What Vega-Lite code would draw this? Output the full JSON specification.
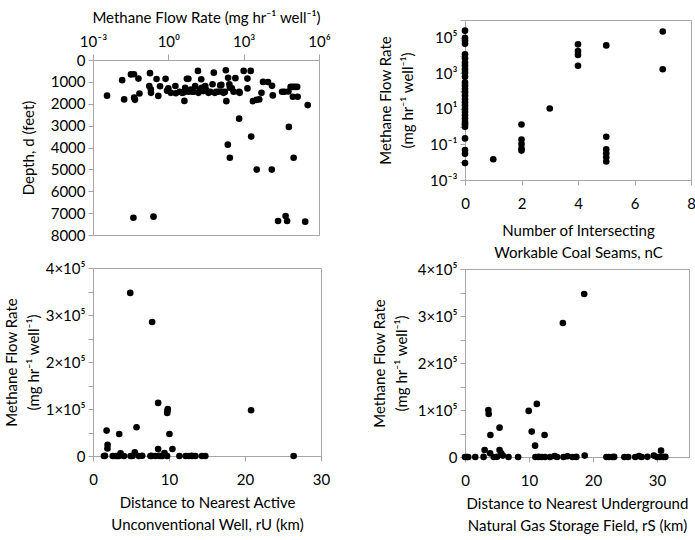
{
  "$schema": "https://vega.github.io/schema/vega-lite/v6.json",
  "background": "white",
  "padding": {"left": 3, "top": 9, "right": 1, "bottom": 3},
  "spacing": 40,
  "config": {
    "font": "Lato",
    "view": {"stroke": "#a6a6a6", "strokeWidth": 1},
    "axis": {
      "domainColor": "#a6a6a6",
      "tickColor": "#a6a6a6",
      "labelColor": "#000000",
      "titleColor": "#000000",
      "labelFont": "Lato",
      "titleFont": "Lato",
      "labelFontSize": 15,
      "titleFontSize": 15,
      "titleFontWeight": "normal",
      "titleLineHeight": 22,
      "grid": false,
      "tickSize": 5,
      "labelPadding": 3,
      "labelFlush": false,
      "labelOverlap": false
    },
    "axisBottom": {"labelPadding": 11}
  },
  "datasets": {
    "depth": [
      {"flow": 0.00363, "depth": 1630}, {"flow": 0.0145, "depth": 920}, {"flow": 0.0174, "depth": 1800},
      {"flow": 0.0324, "depth": 660}, {"flow": 0.0427, "depth": 650}, {"flow": 0.0437, "depth": 1720},
      {"flow": 0.0468, "depth": 1820}, {"flow": 0.0646, "depth": 850}, {"flow": 0.0708, "depth": 1530},
      {"flow": 0.186, "depth": 600}, {"flow": 0.174, "depth": 1190}, {"flow": 0.2, "depth": 1340},
      {"flow": 0.204, "depth": 1500}, {"flow": 0.339, "depth": 870}, {"flow": 0.468, "depth": 1200},
      {"flow": 0.398, "depth": 1640}, {"flow": 0.776, "depth": 860}, {"flow": 0.891, "depth": 1400},
      {"flow": 1.0, "depth": 1300}, {"flow": 1.26, "depth": 1500}, {"flow": 1.91, "depth": 1190},
      {"flow": 2.0, "depth": 1520}, {"flow": 4.37, "depth": 1870}, {"flow": 4.68, "depth": 1270},
      {"flow": 5.5, "depth": 860}, {"flow": 6.31, "depth": 860}, {"flow": 3.98, "depth": 1480},
      {"flow": 6.31, "depth": 1450}, {"flow": 9.12, "depth": 1450}, {"flow": 10, "depth": 1450},
      {"flow": 11.7, "depth": 1190}, {"flow": 15.1, "depth": 500}, {"flow": 20.4, "depth": 880},
      {"flow": 21.4, "depth": 1270}, {"flow": 25.1, "depth": 1420}, {"flow": 29.5, "depth": 1190},
      {"flow": 32.4, "depth": 1370}, {"flow": 46.8, "depth": 1450}, {"flow": 57.5, "depth": 1110},
      {"flow": 64.6, "depth": 580}, {"flow": 81.3, "depth": 1460}, {"flow": 117, "depth": 1160},
      {"flow": 129, "depth": 1140}, {"flow": 145, "depth": 1450}, {"flow": 178, "depth": 1460},
      {"flow": 195, "depth": 470}, {"flow": 204, "depth": 1880}, {"flow": 240, "depth": 810},
      {"flow": 269, "depth": 1110}, {"flow": 282, "depth": 1270}, {"flow": 339, "depth": 1300},
      {"flow": 468, "depth": 830}, {"flow": 661, "depth": 1460}, {"flow": 692, "depth": 1500},
      {"flow": 234, "depth": 3870}, {"flow": 282, "depth": 4470}, {"flow": 661, "depth": 2680},
      {"flow": 1000, "depth": 500}, {"flow": 1905, "depth": 500}, {"flow": 1413, "depth": 850},
      {"flow": 1413, "depth": 1300}, {"flow": 1995, "depth": 3500}, {"flow": 2344, "depth": 1880},
      {"flow": 3236, "depth": 1820}, {"flow": 4169, "depth": 1800}, {"flow": 5129, "depth": 1500},
      {"flow": 5888, "depth": 1000}, {"flow": 9333, "depth": 1010}, {"flow": 13490, "depth": 1180},
      {"flow": 14454, "depth": 1620}, {"flow": 3311, "depth": 5010}, {"flow": 13183, "depth": 5010},
      {"flow": 33884, "depth": 1450}, {"flow": 41687, "depth": 1450}, {"flow": 60256, "depth": 1440},
      {"flow": 63096, "depth": 3060}, {"flow": 74131, "depth": 1230}, {"flow": 91201, "depth": 1230},
      {"flow": 112202, "depth": 1230}, {"flow": 134896, "depth": 1230}, {"flow": 91201, "depth": 1680},
      {"flow": 141254, "depth": 1680}, {"flow": 97724, "depth": 4470}, {"flow": 354813, "depth": 2060},
      {"flow": 0.0407, "depth": 7210}, {"flow": 0.257, "depth": 7160}, {"flow": 23442, "depth": 7360},
      {"flow": 46774, "depth": 7130}, {"flow": 53703, "depth": 7360}, {"flow": 281838, "depth": 7390},
      {"flow": 2.82, "depth": 1450}, {"flow": 3.55, "depth": 1500}, {"flow": 15.8, "depth": 1500},
      {"flow": 39.8, "depth": 1500}, {"flow": 70.8, "depth": 1500}, {"flow": 100, "depth": 1450},
      {"flow": 158, "depth": 1500}, {"flow": 398, "depth": 1450}, {"flow": 17.8, "depth": 1350},
      {"flow": 7.94, "depth": 1350}
    ],
    "seams": [
      {"nc": 0, "flow": 251189}, {"nc": 0, "flow": 100000}, {"nc": 0, "flow": 70795}, {"nc": 0, "flow": 45709},
      {"nc": 0, "flow": 11749}, {"nc": 0, "flow": 7079}, {"nc": 0, "flow": 3981}, {"nc": 0, "flow": 2630},
      {"nc": 0, "flow": 1698}, {"nc": 0, "flow": 1122}, {"nc": 0, "flow": 646}, {"nc": 0, "flow": 309},
      {"nc": 0, "flow": 204}, {"nc": 0, "flow": 132}, {"nc": 0, "flow": 87}, {"nc": 0, "flow": 56},
      {"nc": 0, "flow": 36}, {"nc": 0, "flow": 24}, {"nc": 0, "flow": 15.5}, {"nc": 0, "flow": 10},
      {"nc": 0, "flow": 6.6}, {"nc": 0, "flow": 4.37}, {"nc": 0, "flow": 2.82}, {"nc": 0, "flow": 1.86},
      {"nc": 0, "flow": 1.38}, {"nc": 0, "flow": 0.98}, {"nc": 0, "flow": 0.219}, {"nc": 0, "flow": 0.049},
      {"nc": 0, "flow": 0.0295}, {"nc": 0, "flow": 0.0089},
      {"nc": 1, "flow": 0.0148},
      {"nc": 2, "flow": 1.32}, {"nc": 2, "flow": 0.19}, {"nc": 2, "flow": 0.105}, {"nc": 2, "flow": 0.06}, {"nc": 2, "flow": 0.045},
      {"nc": 3, "flow": 10.5},
      {"nc": 4, "flow": 42658}, {"nc": 4, "flow": 17783}, {"nc": 4, "flow": 10715}, {"nc": 4, "flow": 2630},
      {"nc": 5, "flow": 37154}, {"nc": 5, "flow": 0.27}, {"nc": 5, "flow": 0.054}, {"nc": 5, "flow": 0.0316},
      {"nc": 5, "flow": 0.019}, {"nc": 5, "flow": 0.011},
      {"nc": 7, "flow": 223872}, {"nc": 7, "flow": 1698}
    ],
    "uncon": [
      {"ru": 4.9, "flow": 347000}, {"ru": 7.78, "flow": 285000}, {"ru": 8.57, "flow": 113000},
      {"ru": 9.84, "flow": 100000}, {"ru": 9.8, "flow": 96000}, {"ru": 9.76, "flow": 91600},
      {"ru": 20.8, "flow": 97300}, {"ru": 1.79, "flow": 54000}, {"ru": 3.45, "flow": 46900},
      {"ru": 5.73, "flow": 61100}, {"ru": 10.06, "flow": 46900}, {"ru": 1.92, "flow": 24000},
      {"ru": 1.9, "flow": 16000}, {"ru": 8.57, "flow": 15000}, {"ru": 10.45, "flow": 15000},
      {"ru": 26.4, "flow": 0},
      {"ru": 1.44, "flow": 0}, {"ru": 1.57, "flow": 300}, {"ru": 2.97, "flow": 100}, {"ru": 3.19, "flow": 0},
      {"ru": 3.41, "flow": 200}, {"ru": 3.63, "flow": 5700}, {"ru": 4.07, "flow": 0}, {"ru": 4.94, "flow": 100},
      {"ru": 5.5, "flow": 7800}, {"ru": 6.03, "flow": 0}, {"ru": 6.47, "flow": 500}, {"ru": 7.56, "flow": 0},
      {"ru": 7.7, "flow": 200}, {"ru": 8.22, "flow": 0}, {"ru": 8.66, "flow": 300}, {"ru": 8.88, "flow": 0},
      {"ru": 9.1, "flow": 100}, {"ru": 9.4, "flow": 6400}, {"ru": 9.75, "flow": 0}, {"ru": 11.37, "flow": 100},
      {"ru": 12.6, "flow": 0}, {"ru": 13.0, "flow": 200}, {"ru": 13.47, "flow": 0}, {"ru": 14.34, "flow": 100},
      {"ru": 14.78, "flow": 0}, {"ru": 5.2, "flow": 0}, {"ru": 2.6, "flow": 0}, {"ru": 12.2, "flow": 0}
    ],
    "storage": [
      {"rs": 18.62, "flow": 346700}, {"rs": 15.29, "flow": 285000}, {"rs": 11.22, "flow": 113000},
      {"rs": 9.95, "flow": 98000}, {"rs": 3.65, "flow": 100000}, {"rs": 3.7, "flow": 91600},
      {"rs": 5.4, "flow": 62500}, {"rs": 3.97, "flow": 46900}, {"rs": 10.42, "flow": 54000},
      {"rs": 12.43, "flow": 46900}, {"rs": 10.95, "flow": 24200}, {"rs": 3.07, "flow": 15000},
      {"rs": 5.4, "flow": 15000}, {"rs": 3.92, "flow": 7800}, {"rs": 5.66, "flow": 7800},
      {"rs": 30.63, "flow": 13500},
      {"rs": 0, "flow": 0}, {"rs": 0.3, "flow": 0}, {"rs": 0.5, "flow": 100}, {"rs": 1.6, "flow": 0},
      {"rs": 2.9, "flow": 200}, {"rs": 4.5, "flow": 0}, {"rs": 5.0, "flow": 300}, {"rs": 5.9, "flow": 3000},
      {"rs": 6.8, "flow": 0}, {"rs": 8.3, "flow": 100}, {"rs": 11.0, "flow": 0}, {"rs": 11.5, "flow": 200},
      {"rs": 12.0, "flow": 0}, {"rs": 12.5, "flow": 100}, {"rs": 13.3, "flow": 0}, {"rs": 14.0, "flow": 2000},
      {"rs": 14.4, "flow": 0}, {"rs": 15.4, "flow": 100}, {"rs": 16.0, "flow": 1500}, {"rs": 16.8, "flow": 0},
      {"rs": 17.4, "flow": 200}, {"rs": 18.7, "flow": 3000}, {"rs": 22.1, "flow": 0}, {"rs": 22.5, "flow": 100},
      {"rs": 23.0, "flow": 0}, {"rs": 23.3, "flow": 200}, {"rs": 24.9, "flow": 0}, {"rs": 25.5, "flow": 100},
      {"rs": 26.6, "flow": 0}, {"rs": 27.2, "flow": 2000}, {"rs": 27.6, "flow": 0}, {"rs": 28.5, "flow": 300},
      {"rs": 29.5, "flow": 3000}, {"rs": 30.0, "flow": 0}, {"rs": 30.4, "flow": 100}, {"rs": 31.0, "flow": 0},
      {"rs": 31.3, "flow": 200}
    ],
    "blank": [{"k": 0}]
  },
  "hconcat": [
    {
      "spacing": -12,
      "vconcat": [
        {
          "width": 1,
          "height": 1,
          "view": {"stroke": null},
          "data": {"name": "blank"},
          "mark": {"type": "point", "opacity": 0, "size": 1},
          "encoding": {}
        },
        {
          "spacing": 16,
          "vconcat": [
            {
              "width": 226,
              "height": 175,
              "data": {"name": "depth"},
              "mark": {"type": "circle", "size": 44, "color": "black", "opacity": 1},
              "encoding": {
                "x": {
                  "field": "flow", "type": "quantitative",
                  "scale": {"type": "log", "domain": [0.001, 1000000], "nice": false},
                  "axis": {
                    "orient": "top",
                    "title": "Methane Flow Rate (mg hr⁻¹ well⁻¹)",
                    "values": [0.001, 1, 1000, 1000000],
                    "labelExpr": "datum.value < 0.01 ? '10⁻³' : datum.value < 10 ? '10⁰' : datum.value < 10000 ? '10³' : '10⁶'",
                    "titlePadding": 9,
                    "labelPadding": 5,
                    "tickSize": 6
                  }
                },
                "y": {
                  "field": "depth", "type": "quantitative",
                  "scale": {"domain": [0, 8000], "reverse": true, "nice": false},
                  "axis": {
                    "title": "Depth, d (feet)",
                    "values": [0, 1000, 2000, 3000, 4000, 5000, 6000, 7000, 8000],
                    "format": "d",
                    "titlePadding": 14
                  }
                }
              }
            },
            {
              "width": 228,
              "height": 188,
              "data": {"name": "uncon"},
              "mark": {"type": "circle", "size": 44, "color": "black", "opacity": 1},
              "encoding": {
                "x": {
                  "field": "ru", "type": "quantitative",
                  "scale": {"domain": [0, 30], "nice": false},
                  "axis": {
                    "title": ["Distance to Nearest Active", "Unconventional Well, rU (km)"],
                    "values": [0, 10, 20, 30],
                    "titlePadding": 8
                  }
                },
                "y": {
                  "field": "flow", "type": "quantitative",
                  "scale": {"domain": [0, 400000], "nice": false},
                  "axis": {
                    "title": ["Methane Flow Rate", "(mg hr⁻¹ well⁻¹)"],
                    "values": [0, 50000, 100000, 150000, 200000, 250000, 300000, 350000, 400000],
                    "labelExpr": "datum.value == 0 ? '0' : datum.value % 100000 == 0 ? (datum.value / 100000) + '×10⁵' : ''",
                    "titlePadding": 4
                  }
                }
              }
            }
          ]
        }
      ]
    },
    {
      "spacing": 0,
      "vconcat": [
        {
          "width": 226,
          "height": 160,
          "data": {"name": "seams"},
          "mark": {"type": "circle", "size": 44, "color": "black", "opacity": 1},
          "encoding": {
            "x": {
              "field": "nc", "type": "quantitative",
              "scale": {"domain": [0, 8], "nice": false},
              "axis": {
                "title": ["Number of Intersecting", "Workable Coal Seams, nC"],
                "values": [0, 2, 4, 6, 8],
                "titlePadding": 12
              }
            },
            "y": {
              "field": "flow", "type": "quantitative",
              "scale": {"type": "log", "domain": [0.001, 1000000], "nice": false},
              "axis": {
                "title": ["Methane Flow Rate", "(mg hr⁻¹ well⁻¹)"],
                "values": [0.001, 0.01, 0.1, 1, 10, 100, 1000, 10000, 100000, 1000000],
                "labelExpr": "datum.value < 0.005 ? '10⁻³' : datum.value < 0.05 ? '' : datum.value < 0.5 ? '10⁻¹' : datum.value < 5 ? '' : datum.value < 50 ? '10¹' : datum.value < 500 ? '' : datum.value < 5000 ? '10³' : datum.value < 50000 ? '' : datum.value < 500000 ? '10⁵' : ''",
                "titlePadding": 14
              }
            }
          }
        },
        {
          "width": 224,
          "height": 188,
          "data": {"name": "storage"},
          "mark": {"type": "circle", "size": 44, "color": "black", "opacity": 1},
          "encoding": {
            "x": {
              "field": "rs", "type": "quantitative",
              "scale": {"domain": [0, 35], "nice": false},
              "axis": {
                "title": ["Distance to Nearest Underground", "Natural Gas Storage Field, rS (km)"],
                "values": [0, 10, 20, 30],
                "titlePadding": 8
              }
            },
            "y": {
              "field": "flow", "type": "quantitative",
              "scale": {"domain": [0, 400000], "nice": false},
              "axis": {
                "title": ["Methane Flow Rate", "(mg hr⁻¹ well⁻¹)"],
                "values": [0, 50000, 100000, 150000, 200000, 250000, 300000, 350000, 400000],
                "labelExpr": "datum.value == 0 ? '0' : datum.value % 100000 == 0 ? (datum.value / 100000) + '×10⁵' : ''",
                "titlePadding": 8
              }
            }
          }
        }
      ]
    }
  ]
}
